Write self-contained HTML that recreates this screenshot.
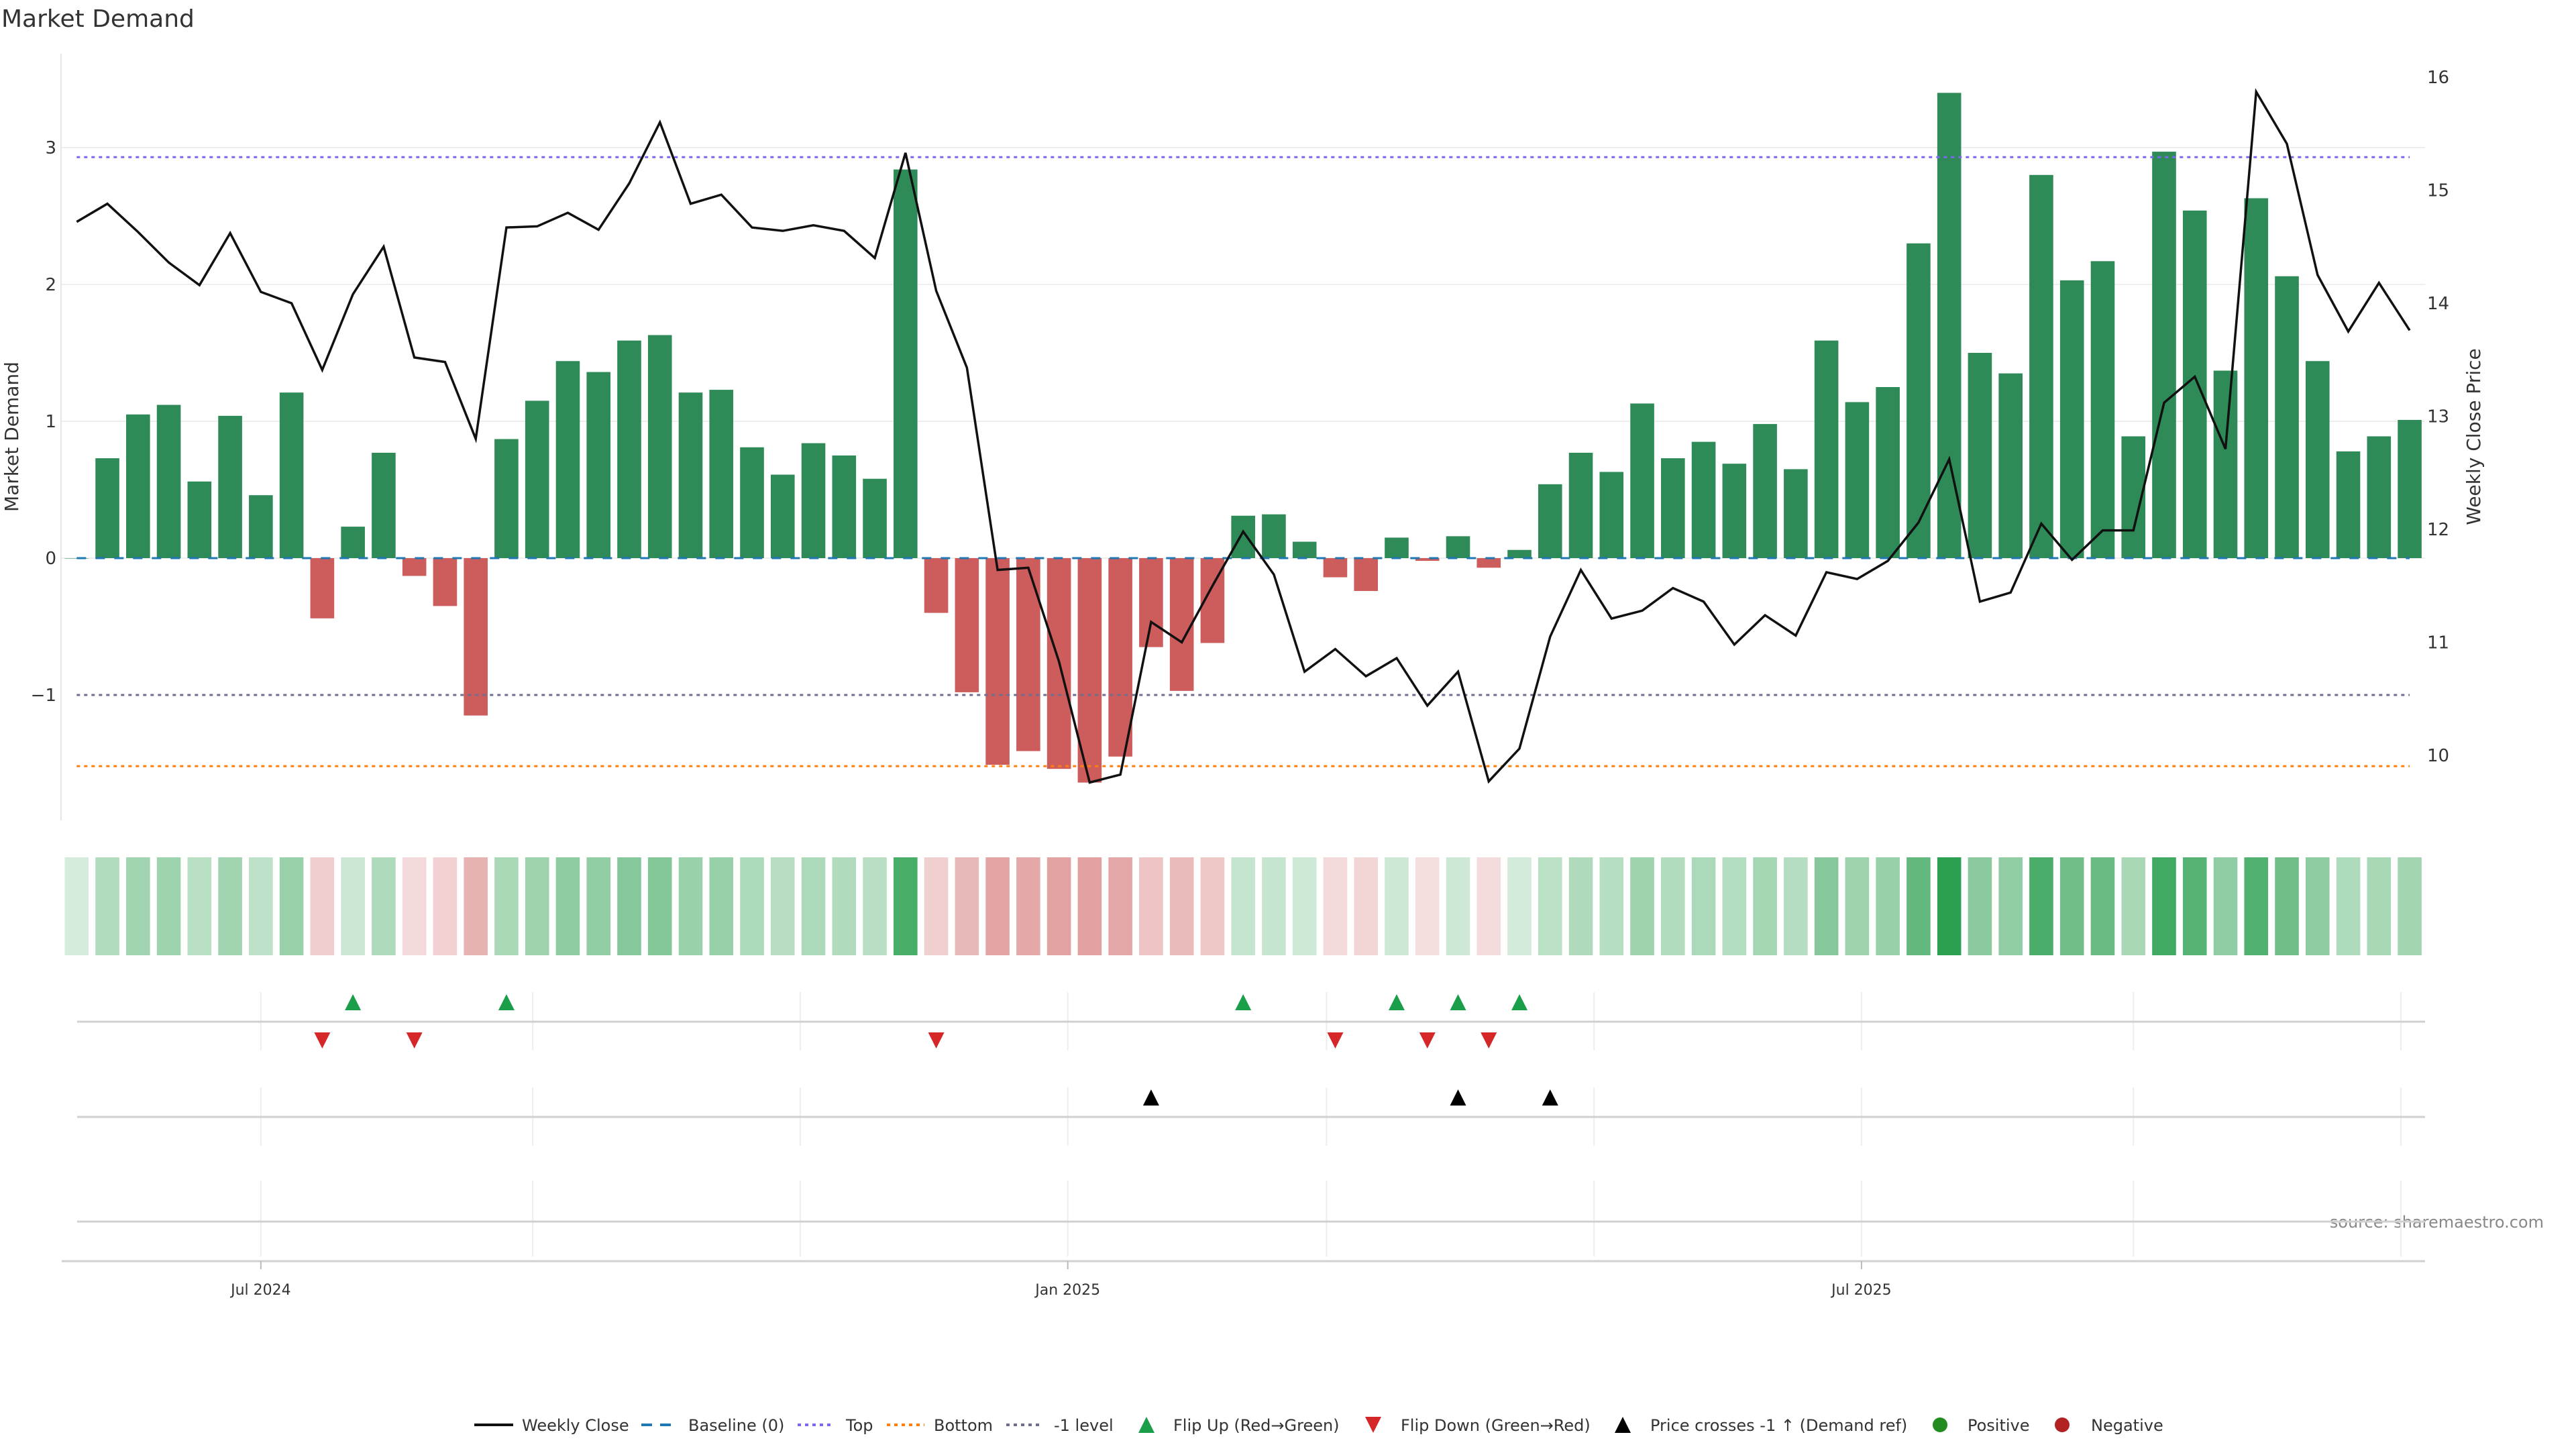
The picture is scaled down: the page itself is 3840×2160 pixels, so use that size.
<!DOCTYPE html>
<html><head><meta charset="utf-8"><style>
html,body{margin:0;padding:0;background:#fff;}
svg{display:block;font-family:"DejaVu Sans","Liberation Sans",sans-serif;}
</style></head><body>
<svg id="chart" width="3840" height="2160" viewBox="0 0 3840 2160" xmlns="http://www.w3.org/2000/svg">
<text x="2" y="40" font-size="36" fill="#333">Market Demand</text>
<text transform="translate(27,651) rotate(-90)" text-anchor="middle" font-size="28" fill="#333">Market Demand</text>
<text transform="translate(3697,651) rotate(-90)" text-anchor="middle" font-size="28" fill="#333">Weekly Close Price</text>
<text x="3792" y="1830" text-anchor="end" font-size="24" fill="#888">source: sharemaestro.com</text>
<g id="grid"></g><g id="bars"></g><g id="refs"></g><g id="line"></g><g id="heat"></g><g id="rows"></g><g id="axes"></g><g id="legend"></g>
</svg>
<script>
const demand=[0,0.73,1.05,1.12,0.56,1.04,0.46,1.21,-0.44,0.23,0.77,-0.13,-0.35,-1.15,0.87,1.15,1.44,1.36,1.59,1.63,1.21,1.23,0.81,0.61,0.84,0.75,0.58,2.84,-0.40,-0.98,-1.51,-1.41,-1.54,-1.64,-1.45,-0.65,-0.97,-0.62,0.31,0.32,0.12,-0.14,-0.24,0.15,-0.02,0.16,-0.07,0.06,0.54,0.77,0.63,1.13,0.73,0.85,0.69,0.98,0.65,1.59,1.14,1.25,2.30,3.40,1.50,1.35,2.80,2.03,2.17,0.89,2.97,2.54,1.37,2.63,2.06,1.44,0.78,0.89,1.01];
const closePrice=[14.72,14.88,14.63,14.36,14.16,14.62,14.10,14.00,13.41,14.08,14.50,13.52,13.48,12.80,14.67,14.68,14.80,14.65,15.06,15.60,14.88,14.96,14.67,14.64,14.69,14.64,14.40,15.33,14.11,13.43,11.64,11.66,10.83,9.76,9.83,11.18,11.00,11.50,11.98,11.60,10.74,10.94,10.70,10.86,10.44,10.74,9.77,10.06,11.05,11.64,11.21,11.28,11.48,11.36,10.98,11.24,11.06,11.62,11.56,11.72,12.06,12.62,11.36,11.44,12.05,11.73,11.99,11.99,13.12,13.35,12.71,15.87,15.41,14.25,13.75,14.18,13.76];
const crossIdx=[35,45,48];
const leftTicks=[-1,0,1,2,3];
const rightTicks=[10,11,12,13,14,15,16];
const topLevel=2.93, bottomLevel=-1.52, minusLevel=-1;
const xLabels=["Jul 2024","Jan 2025","Jul 2025"];
const xLabelDates=["2024-07-01","2025-01-01","2025-07-01"];
const gridDates=["2024-07-01","2024-09-01","2024-11-01","2025-01-01","2025-03-01","2025-05-01","2025-07-01","2025-09-01","2025-11-01"];

const NS="http://www.w3.org/2000/svg";
function mk(parent,tag,attrs){const e=document.createElementNS(NS,tag);for(const k in attrs)e.setAttribute(k,attrs[k]);document.getElementById(parent).appendChild(e);return e;}
const X0=114.3, STEP=45.76, BW=35.6;
const xi=i=>X0+STEP*i;
const yL=v=>832-v*204;
const yR=p=>1126-(p-10)*168.5;
const d0=new Date("2024-05-20T00:00:00Z").getTime();
const xd=s=>X0+((new Date(s+"T00:00:00Z").getTime()-d0)/86400000)/7*STEP;
const maxAbs=Math.max(...demand.map(Math.abs));

leftTicks.forEach(t=>{if(t>=0){const g=mk('grid','line',{x1:91,x2:3615,y1:yL(t),y2:yL(t),stroke:'#eeeeee','stroke-width':2});

}
const tx=mk('axes','text',{x:84,y:yL(t)+9,'text-anchor':'end','font-size':26,fill:'#333'});tx.textContent=t<0?'\u2212'+Math.abs(t):String(t);

});
rightTicks.forEach(t=>{const tx=mk('axes','text',{x:3618,y:yR(t)+9,'font-size':26,fill:'#333'});tx.textContent=String(t);

});
const ax=mk('axes','line',{x1:91,x2:91,y1:80,y2:1223,stroke:'#e6e6e6','stroke-width':2});



demand.forEach((v,i)=>{const y=Math.min(yL(v),yL(0));const h=Math.abs(yL(v)-yL(0));
const r=mk('bars','rect',{x:xi(i)-BW/2,y:y,width:BW,height:Math.max(h,0.5),fill:v>=0?'#2e8b57':'#cd5c5c'});

});

const xa=xi(0), xb=xi(demand.length-1);
[[0,'#1f77b4','14 14',3,'baseline-zero'],[topLevel,'#7b68ee','5 6',3,'top-level-line'],[bottomLevel,'#ff7f0e','5 6',3,'bottom-level-line'],[minusLevel,'#6e6e8e','5 6',3,'minus-one-level-line']].forEach(a=>{
const l=mk('refs','line',{x1:xa,x2:xb,y1:yL(a[0]),y2:yL(a[0]),stroke:a[1],'stroke-dasharray':a[2],'stroke-width':a[3]});

});

const pl=mk('line','polyline',{points:closePrice.map((p,i)=>xi(i)+','+yR(p)).join(' '),fill:'none',stroke:'#111','stroke-width':3.5,'stroke-linejoin':'miter'});



demand.forEach((v,i)=>{const a=0.2+0.8*Math.abs(v)/maxAbs;const b=v>=0?[44,160,80]:[205,92,92];
const c=b.map(k=>Math.round(255-(255-k)*a));
const r=mk('heat','rect',{x:xi(i)-BW/2,y:1278,width:BW,height:146,fill:'rgb('+c.join(',')+')'});

});

[[1479,1566,1523],[1621,1708,1665],[1760,1873,1821]].forEach((r,k)=>{
gridDates.forEach(d=>{const v=mk('rows','line',{x1:xd(d),x2:xd(d),y1:r[0],y2:r[1],stroke:'#eeeeee','stroke-width':2});

});
const l=mk('rows','line',{x1:115,x2:3615,y1:r[2],y2:r[2],stroke:'#d0d0d0','stroke-width':3});

});
function tri(g,x,y,up,fill,name){const s=12;const pts=up?[[x,y-s],[x-s,y+s],[x+s,y+s]]:[[x,y+s],[x-s,y-s],[x+s,y-s]];
const p=mk(g,'polygon',{points:pts.map(q=>q.join(',')).join(' '),fill:fill});

}
for(let i=1;i<demand.length;i++){const a=demand[i-1]>=0,b=demand[i]>=0;
if(!a&&b)tri('rows',xi(i),1494,true,'#1a9e4a','flip-up-marker');
if(a&&!b)tri('rows',xi(i),1551,false,'#d62728','flip-down-marker');}
crossIdx.forEach(i=>tri('rows',xi(i),1636,true,'#000','price-cross-marker'));

const xl=mk('axes','line',{x1:92,x2:3615,y1:1880,y2:1880,stroke:'#d0d0d0','stroke-width':3});


xLabels.forEach((t,k)=>{const x=xd(xLabelDates[k]);
const tk=mk('axes','line',{x1:x,x2:x,y1:1880,y2:1892,stroke:'#bbb','stroke-width':2});


const tx=mk('axes','text',{x:x,y:1930,'text-anchor':'middle','font-size':22,fill:'#333'});tx.textContent=t;

});

const LY=2124;
function ltext(x,t){const e=mk('legend','text',{x:x,y:LY+9,'font-size':24,fill:'#333'});e.textContent=t;

}
function lline(x1,x2,col,dash,name){const l=mk('legend','line',{x1:x1,x2:x2,y1:LY,y2:LY,stroke:col,'stroke-width':4,'stroke-dasharray':dash});

}
lline(707,765,'#111','none','legend-weekly-close');ltext(778,'Weekly Close');
lline(956,1011,'#1f77b4','16 12','legend-baseline');ltext(1026,'Baseline (0)');
lline(1189,1244,'#7b68ee','5 6','legend-top');ltext(1261,'Top');
lline(1322,1378,'#ff7f0e','5 6','legend-bottom');ltext(1392,'Bottom');
lline(1500,1555,'#6e6e8e','5 6','legend-minus-one');ltext(1571,'-1 level');
tri('legend',1709,LY,true,'#1a9e4a','legend-flip-up');ltext(1749,'Flip Up (Red\u2192Green)');
tri('legend',2047,LY,false,'#d62728','legend-flip-down');ltext(2088,'Flip Down (Green\u2192Red)');
tri('legend',2419,LY,true,'#000','legend-price-cross');ltext(2460,'Price crosses -1 \u2191 (Demand ref)');
const c1=mk('legend','circle',{cx:2892,cy:LY,r:11,fill:'#228b22'});


ltext(2933,'Positive');
const c2=mk('legend','circle',{cx:3074,cy:LY,r:11,fill:'#b22222'});


ltext(3117,'Negative');
</script>
</body></html>
